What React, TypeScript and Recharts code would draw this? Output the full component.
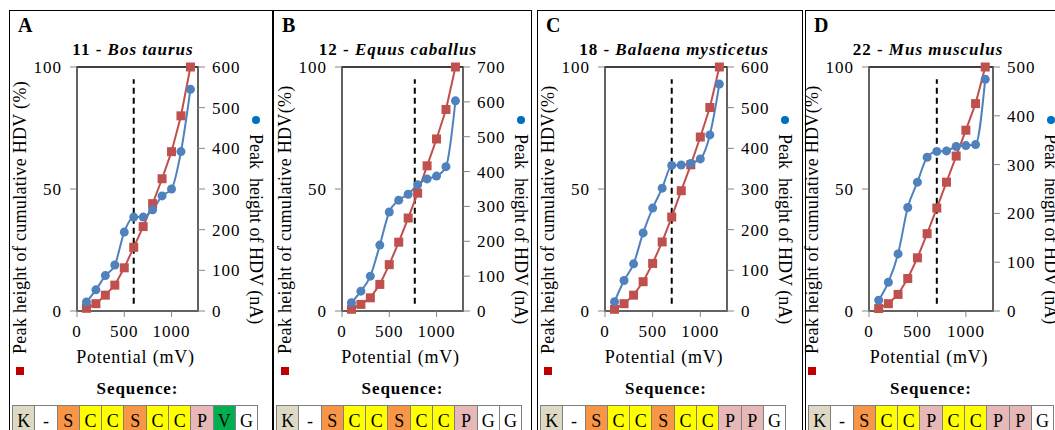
import React from "react";
import { LineChart, Line, XAxis, YAxis, ReferenceLine, ReferenceArea } from "recharts";

// potential steps (mV), shared by all four panels
const potentials = [100, 200, 300, 400, 500, 600, 700, 800, 900, 1000, 1100, 1200];

// A - Bos taurus
const bosCumulative = [1.1, 3.0, 6.5, 10.6, 17.7, 26.1, 34.6, 44.0, 54.2, 65.3, 80.0, 100];
const bosPeak = [22, 52, 87, 113, 194, 231, 231, 249, 283, 300, 392, 545];
// B - Equus caballus
const equusCumulative = [0.7, 2.7, 5.4, 10.9, 19.0, 28.2, 38.1, 48.3, 59.5, 70.5, 82.6, 100];
const equusPeak = [24, 57, 100, 189, 284, 318, 335, 362, 379, 387, 414, 603];
// C - Balaena mysticetus
const balaenaCumulative = [0.7, 3.0, 6.5, 12.0, 19.5, 28.3, 38.5, 49.3, 59.9, 71.3, 83.4, 100];
const balaenaPeak = [23, 75, 116, 192, 253, 302, 358, 359, 363, 374, 433, 558];
// D - Mus musculus
const musCumulative = [1.0, 3.0, 6.8, 13.3, 21.8, 31.7, 42.2, 52.8, 63.5, 74.1, 85.0, 100];
const musPeak = [22, 59, 117, 212, 264, 315, 327, 328, 337, 339, 341, 475];

const xTicks = [0, 500, 1000];
const pctTicks = [0, 50, 100];
const ticks600 = [0, 100, 200, 300, 400, 500, 600];
const ticks700 = [0, 100, 200, 300, 400, 500, 600, 700];
const ticks500 = [0, 100, 200, 300, 400, 500];

const seqA = ["K", "-", "S", "C", "C", "S", "C", "C", "P", "V", "G"];
const seqB = ["K", "-", "S", "C", "C", "S", "C", "C", "P", "G", "G"];
const seqC = ["K", "-", "S", "C", "C", "S", "C", "C", "P", "P", "G"];
const seqD = ["K", "-", "S", "C", "C", "P", "C", "C", "P", "P", "G"];

const panels = [
  { letter: "A", num: "11", species: "Bos taurus", cumulative: bosCumulative, peak: bosPeak, peakTicks: ticks600, cutoff: 600, seq: seqA, leftTitle: "Peak height of cumulative HDV (%)" },
  { letter: "B", num: "12", species: "Equus caballus", cumulative: equusCumulative, peak: equusPeak, peakTicks: ticks700, cutoff: 770, seq: seqB, leftTitle: "Peak height of cumulative HDV(%)" },
  { letter: "C", num: "18", species: "Balaena mysticetus", cumulative: balaenaCumulative, peak: balaenaPeak, peakTicks: ticks600, cutoff: 700, seq: seqC, leftTitle: "Peak height of cumulative HDV(%)" },
  { letter: "D", num: "22", species: "Mus musculus", cumulative: musCumulative, peak: musPeak, peakTicks: ticks500, cutoff: 700, seq: seqD, leftTitle: "Peak height of cumulative HDV(%)" },
];

// page layout of each panel
const layout = [
  { left: 9, width: 264, plotLeft: 77, plotRight: 198, titleX: 133 },
  { left: 273, width: 259, plotLeft: 342, plotRight: 463, titleX: 398 },
  { left: 537, width: 266, plotLeft: 605, plotRight: 727, titleX: 674 },
  { left: 805, width: 260, plotLeft: 869, plotRight: 993, titleX: 928 },
];

const residueColor: Record<string, string> = {
  K: "#DDD9C4",
  "-": "#FFFFFF",
  S: "#F79646",
  C: "#FFFF00",
  P: "#E6B9B8",
  V: "#00B050",
  G: "#FFFFFF",
};

const RED = "#C0504D";
const BLUE = "#4F81BD";
const FONT = "'Liberation Serif', 'Times New Roman', serif";

const centered = (x: number, y: number): React.CSSProperties => ({
  position: "absolute",
  left: x,
  top: y,
  transform: "translate(-50%, -50%)",
  whiteSpace: "nowrap",
  lineHeight: 1,
});

function Panel({ p, l }: any) {
  const data = potentials.map((x, i) => ({ x, pct: p.cumulative[i], nA: p.peak[i] }));
  const leftW = 68;
  const rightW = 60;
  const plotW = l.plotRight - l.plotLeft;
  const mid = (l.plotLeft + l.plotRight) / 2;
  const tick = { fill: "#000", fontSize: 17, fontFamily: FONT, letterSpacing: 1 };

  return (
    <>
      <div style={{ position: "absolute", left: l.left, top: 10, width: l.width, height: 440, border: "1px solid #000", boxSizing: "border-box" }} />
      <div style={{ position: "absolute", left: l.left + 9, top: 15, fontSize: 20, fontWeight: "bold", lineHeight: 1, letterSpacing: 1 }}>{p.letter}</div>
      <div style={{ ...centered(l.titleX, 49), fontSize: 17, fontWeight: "bold", letterSpacing: 1 }}>
        {p.num} - <i>{p.species}</i>
      </div>

      <div style={{ position: "absolute", left: l.plotLeft - leftW, top: 0 }}>
        <LineChart width={leftW + plotW + rightW} height={345} data={data} margin={{ top: 67, right: 0, bottom: 0, left: 0 }} style={{ fontFamily: FONT }}>
          <XAxis type="number" dataKey="x" domain={[0, 1280]} ticks={xTicks} height={34} tickSize={6} tickMargin={8} stroke="#868686" tick={tick} interval={0} />
          <YAxis yAxisId="left" domain={[0, 100]} ticks={pctTicks} width={leftW} tickSize={7} tickMargin={8} stroke="#868686" tick={tick} interval={0} />
          <YAxis yAxisId="right" orientation="right" domain={[0, p.peakTicks[p.peakTicks.length - 1]]} ticks={p.peakTicks} width={rightW} tickSize={7} tickMargin={7} stroke="#868686" tick={tick} interval={0} />
          <ReferenceArea yAxisId="left" x1={0} x2={1280} y1={0} y2={100} fill="none" stroke="#000" strokeWidth={1.5} />
          <ReferenceLine yAxisId="left" segment={[{ x: p.cutoff, y: 3 }, { x: p.cutoff, y: 95 }]} stroke="#000" strokeDasharray="6 4" strokeWidth={2} />
          <Line
            yAxisId="left"
            dataKey="pct"
            type="linear"
            stroke={RED}
            strokeWidth={2}
            isAnimationActive={false}
            dot={(d: any) => <rect key={`sq-${d.index}`} x={d.cx - 4.5} y={d.cy - 4.5} width={9} height={9} fill={RED} />}
          />
          <Line
            yAxisId="right"
            dataKey="nA"
            type="monotone"
            stroke={BLUE}
            strokeWidth={2}
            isAnimationActive={false}
            dot={{ r: 4.5, fill: BLUE, stroke: BLUE, strokeWidth: 0 }}
          />
        </LineChart>
      </div>

      {/* left axis title with red legend marker */}
      <div
        style={{
          position: "absolute",
          left: l.plotLeft - 57 - 10,
          top: 375,
          height: 20,
          display: "flex",
          alignItems: "center",
          whiteSpace: "nowrap",
          transformOrigin: "0 0",
          transform: "rotate(-90deg)",
          fontSize: 18,
          letterSpacing: 0.3,
        }}
      >
        <span style={{ display: "inline-block", width: 8, height: 8, background: "#C00000", marginRight: 13 }} />
        <span>{p.leftTitle}</span>
      </div>

      {/* right axis title with blue legend marker */}
      <div
        style={{
          position: "absolute",
          left: l.plotRight + 58 + 10,
          top: 116,
          height: 20,
          display: "flex",
          alignItems: "center",
          whiteSpace: "pre",
          transformOrigin: "0 0",
          transform: "rotate(90deg)",
          fontSize: 18,
        }}
      >
        <span style={{ display: "inline-block", width: 8, height: 8, borderRadius: 4, background: "#0070C0", marginRight: 10 }} />
        <span>{"Peak  height of HDV (nA)"}</span>
      </div>

      <div style={{ ...centered(mid - 2, 357), fontSize: 18, letterSpacing: 0.8 }}>Potential (mV)</div>
      <div style={{ ...centered(mid, 388), fontSize: 17, fontWeight: "bold", letterSpacing: 0.9 }}>Sequence:</div>

      <div style={{ position: "absolute", left: l.left + 3, top: 405, display: "flex" }}>
        {p.seq.map((r: string, i: number) => (
          <div
            key={i}
            style={{
              width: 23.3,
              height: 30,
              boxSizing: "border-box",
              border: "1px solid #7F7F7F",
              marginLeft: i === 0 ? 0 : -1,
              background: residueColor[r],
              fontSize: 18,
              textAlign: "center",
              lineHeight: "28px",
              paddingTop: 1,
            }}
          >
            {r}
          </div>
        ))}
      </div>
    </>
  );
}

export default function App() {
  return (
    <div style={{ position: "absolute", left: 0, top: 0, width: 1055, height: 430, overflow: "hidden", background: "#fff", fontFamily: FONT, color: "#000" }}>
      {panels.map((p, i) => (
        <Panel key={p.letter} p={p} l={layout[i]} />
      ))}
    </div>
  );
}
